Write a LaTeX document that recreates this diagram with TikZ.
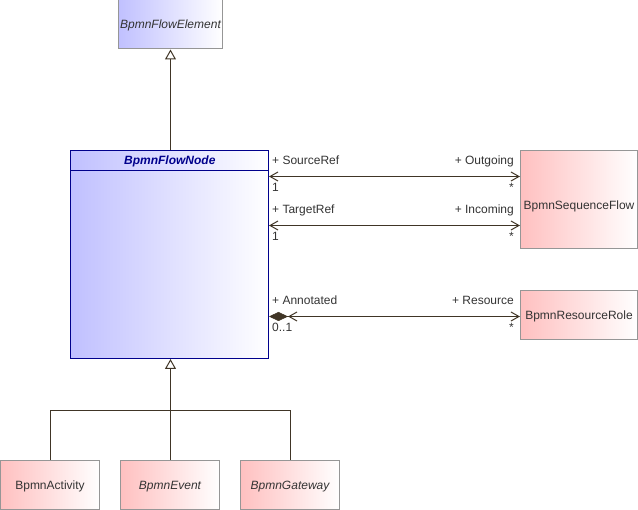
\documentclass[tikz,border=0pt]{standalone}
\usepackage{fontspec}
\setmainfont{Liberation Sans}
\usetikzlibrary{arrows.meta}
\definecolor{linec}{RGB}{64,53,38}
\definecolor{txt}{RGB}{51,51,51}
\definecolor{bluefill}{RGB}{192,192,255}
\definecolor{pinkfill}{RGB}{255,192,192}
\definecolor{navy}{RGB}{0,0,140}
\definecolor{graybd}{RGB}{150,150,150}
\tikzset{
  every node/.style={font=\fontsize{12}{14}\selectfont, text=txt},
  classtext/.style={text height=8.6pt, text depth=0pt},
  pinkclass/.style={classtext, draw=graybd, line width=1pt, left color=pinkfill, right color=white, inner sep=0pt},
  blueclass/.style={classtext, draw=graybd, line width=1pt, left color=bluefill, right color=white, inner sep=0pt},
  mainclass/.style={draw=navy, line width=1pt, left color=bluefill, right color=white, inner sep=0pt},
  gen/.style={draw=linec, line width=1pt, -{Triangle[open, length=10pt, width=11pt, fill=white, line width=1pt]}},
  plainline/.style={draw=linec, line width=1pt},
  assoc/.style={draw=linec, line width=1pt, {Straight Barb[length=8pt, width=9pt, line width=1pt]}-{Straight Barb[length=8pt, width=9pt, line width=1pt]}},
  compo/.style={draw=linec, line width=1pt, {Diamond[length=19pt, width=9pt, fill=linec, line width=0.5pt] Straight Barb[length=8pt, width=9pt, line width=1pt]}-{Straight Barb[length=8pt, width=9pt, line width=1pt]}},
  lbl/.style={inner sep=0pt}
}
\begin{document}
\begin{tikzpicture}[x=1pt, y=-1pt]
\useasboundingbox (0,0) rectangle (638,510);
% classes
\node[blueclass, minimum width=104pt, minimum height=49pt] (fe) at (170.5,24.5) {\itshape BpmnFlowElement};
\node[mainclass, minimum width=198pt, minimum height=208pt] (fn) at (169.5,254.5) {};
\node[lbl, anchor=base, text=navy, font=\fontsize{12}{14}\selectfont\bfseries\itshape] (fnt) at (169.8,164.3) {BpmnFlowNode};
\coordinate (sepl) at (70.5,170.5);
\coordinate (sepr) at (268.5,170.5);
\draw[navy, line width=1pt] (sepl) -- (sepr);
\node[pinkclass, text height=20.6pt, minimum width=117pt, minimum height=98pt] (sf) at (579,199.5) {BpmnSequenceFlow};
\node[pinkclass, minimum width=117pt, minimum height=49pt] (rr) at (579,315) {BpmnResourceRole};
\node[pinkclass, minimum width=99pt, minimum height=49pt] (act) at (50,485) {BpmnActivity};
\node[pinkclass, minimum width=99pt, minimum height=49pt] (ev) at (170,485) {\itshape BpmnEvent};
\node[pinkclass, minimum width=99pt, minimum height=49pt] (gw) at (290,485) {\itshape BpmnGateway};
% generalizations
\draw[gen] (fn.north -| fe.south) -- (fe.south);
\coordinate (j) at (170.5,410.5);
\draw[gen] ([xshift=0.5pt]ev.north) -- (fn.south -| j);
\draw[plainline] ([xshift=0.5pt]act.north) |- (j);
\draw[plainline] ([xshift=0.5pt]gw.north) |- (j);
% associations
\draw[assoc] (fn.east |- 0,176.5) -- (sf.west |- 0,176.5);
\draw[assoc] (fn.east |- 0,225.5) -- (sf.west |- 0,225.5);
\draw[compo] (fn.east |- 0,316.5) -- (rr.west |- 0,316.5);
% labels
\node[lbl, anchor=base west] (l1) at (272,164.3) {+ SourceRef};
\node[lbl, anchor=base west] (l2) at (272,191.3) {1};
\node[lbl, anchor=base east] (l3) at (514,164.3) {+ Outgoing};
\node[lbl, anchor=base east] (l4) at (514,191.3) {*};
\node[lbl, anchor=base west] (l5) at (272,214) {+ TargetRef};
\node[lbl, anchor=base west] (l6) at (272,240.8) {1};
\node[lbl, anchor=base east] (l7) at (514,214) {+ Incoming};
\node[lbl, anchor=base east] (l8) at (514,240.8) {*};
\node[lbl, anchor=base west] (l9) at (272,304.3) {+ Annotated};
\node[lbl, anchor=base west] (l10) at (272,331.8) {0..1};
\node[lbl, anchor=base east] (l11) at (514,304.3) {+ Resource};
\node[lbl, anchor=base east] (l12) at (514,331.8) {*};
\end{tikzpicture}
\end{document}
